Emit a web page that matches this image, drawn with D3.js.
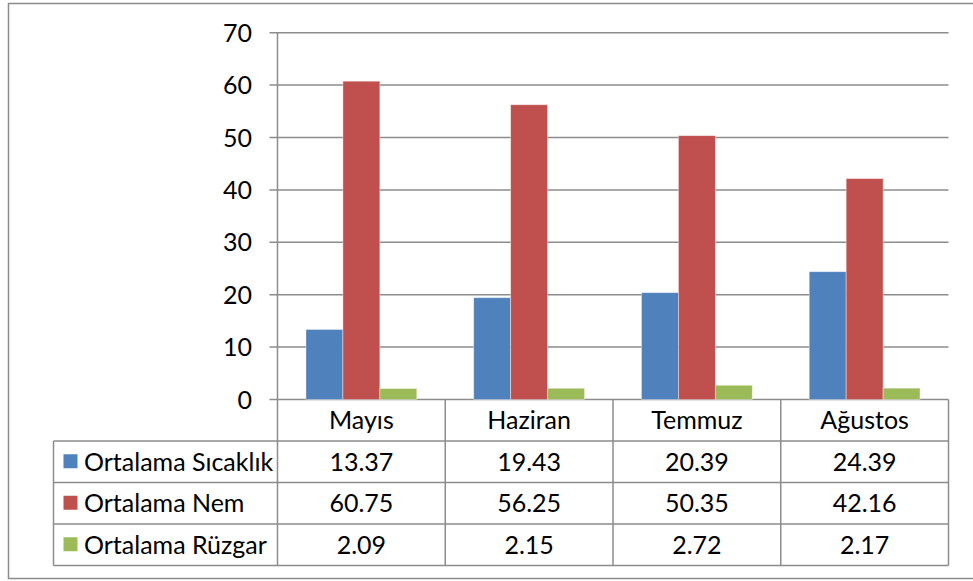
<!DOCTYPE html>
<meta charset="utf-8">
<style>
body { margin: 0; background: #fff; }
text { font-family: Lato, "Open Sans", sans-serif; fill: #000; }
.grid line { stroke: #8c8c8c; stroke-width: 1.5; }
.tbl line { stroke: #8c8c8c; stroke-width: 1.5; }
</style>
<body>
<svg width="973" height="581"></svg>
</body>
<script src="https://d3js.org/d3.v7.min.js"></script>
<script>

var months = ["Mayıs", "Haziran", "Temmuz", "Ağustos"];
var seriesNames = ["Ortalama Sıcaklık", "Ortalama Nem", "Ortalama Rüzgar"];
var sicaklik = [13.37, 19.43, 20.39, 24.39];
var nem = [60.75, 56.25, 50.35, 42.16];
var ruzgar = [2.09, 2.15, 2.72, 2.17];
var yTicks = [0, 10, 20, 30, 40, 50, 60, 70];

var colors = ["#4f81bd", "#c0504d", "#9bbb59"];
var values = [sicaklik, nem, ruzgar];

var svg = d3.select("svg");

// outer chart border (right edge falls just outside the picture)
svg.append("rect")
    .attr("x", 8.5).attr("y", 3.5)
    .attr("width", 967).attr("height", 575)
    .attr("fill", "none")
    .attr("stroke", "#8c8c8c")
    .attr("stroke-width", 1.5);

var plotL = 277.5, plotR = 948.5, plotT = 32.7, base = 399.5;
var tableLeft = 53.5, rowH = 41.5;
var fs = "25px";

var y = d3.scaleLinear().domain([0, 70]).range([base, plotT]);
var x0 = d3.scaleBand().domain(months).range([plotL, plotR]);
var x1 = d3.scaleBand().domain(seriesNames).range([0, x0.bandwidth()]).paddingOuter(0.77);

// gridlines + ticks
var grid = svg.append("g").attr("class", "grid");
grid.selectAll("line")
  .data(yTicks)
  .enter().append("line")
    .attr("x1", plotL - 8).attr("x2", plotR)
    .attr("y1", function(d) { return y(d); })
    .attr("y2", function(d) { return y(d); });

svg.selectAll(".ylab")
  .data(yTicks)
  .enter().append("text")
    .attr("class", "ylab")
    .attr("x", 252)
    .attr("y", function(d) { return y(d); })
    .attr("dy", "0.36em")
    .attr("text-anchor", "end")
    .style("font-size", fs)
    .text(function(d) { return d; });

// bars
var groups = svg.append("g").selectAll("g")
  .data(months)
  .enter().append("g")
    .attr("transform", function(d) { return "translate(" + x0(d) + ",0)"; });

groups.selectAll("rect")
  .data(function(m, i) {
    return seriesNames.map(function(s, j) { return {s: s, v: values[j][i], c: colors[j]}; });
  })
  .enter().append("rect")
    .attr("x", function(d) { return x1(d.s); })
    .attr("width", x1.bandwidth())
    .attr("y", function(d) { return y(d.v); })
    .attr("height", function(d) { return base - y(d.v); })
    .attr("fill", function(d) { return d.c; })
    .attr("stroke", "rgba(255,255,255,0.5)")
    .attr("stroke-width", 0.8);

// data table
var tbl = svg.append("g").attr("class", "tbl");
var rowsY = [base + rowH, base + 2 * rowH, base + 3 * rowH, base + 4 * rowH];
var bottom = rowsY[3];

tbl.selectAll("line.h")
  .data(rowsY)
  .enter().append("line")
    .attr("x1", tableLeft).attr("x2", plotR)
    .attr("y1", function(d) { return d; }).attr("y2", function(d) { return d; });

var vx = months.map(function(m) { return x0(m); }).concat([plotR]);
tbl.selectAll("line.v")
  .data(vx)
  .enter().append("line")
    .attr("x1", function(d) { return d; }).attr("x2", function(d) { return d; })
    .attr("y1", function(d, i) { return i === 0 ? plotT : base; })
    .attr("y2", bottom);
tbl.append("line")
    .attr("x1", tableLeft).attr("x2", tableLeft)
    .attr("y1", rowsY[0]).attr("y2", bottom);

// category labels
svg.selectAll(".cat")
  .data(months)
  .enter().append("text")
    .attr("x", function(d) { return x0(d) + x0.bandwidth() / 2; })
    .attr("y", base + rowH / 2)
    .attr("dy", "0.36em")
    .attr("text-anchor", "middle")
    .style("font-size", fs)
    .text(function(d) { return d; });

// legend keys, names and values
seriesNames.forEach(function(s, j) {
  var cy = rowsY[j] + rowH / 2;
  svg.append("rect")
      .attr("x", 63.5).attr("y", cy - 7.5)
      .attr("width", 14).attr("height", 14)
      .attr("fill", colors[j]);
  svg.append("text")
      .attr("x", 84)
      .attr("y", cy)
      .attr("dy", "0.36em")
      .style("font-size", fs)
      .text(s);
  svg.selectAll(".val" + j)
    .data(values[j])
    .enter().append("text")
      .attr("x", function(d, i) { return x0(months[i]) + x0.bandwidth() / 2; })
      .attr("y", cy)
      .attr("dy", "0.36em")
      .attr("text-anchor", "middle")
      .style("font-size", fs)
      .text(function(d) { return d.toFixed(2); });
});

</script>
